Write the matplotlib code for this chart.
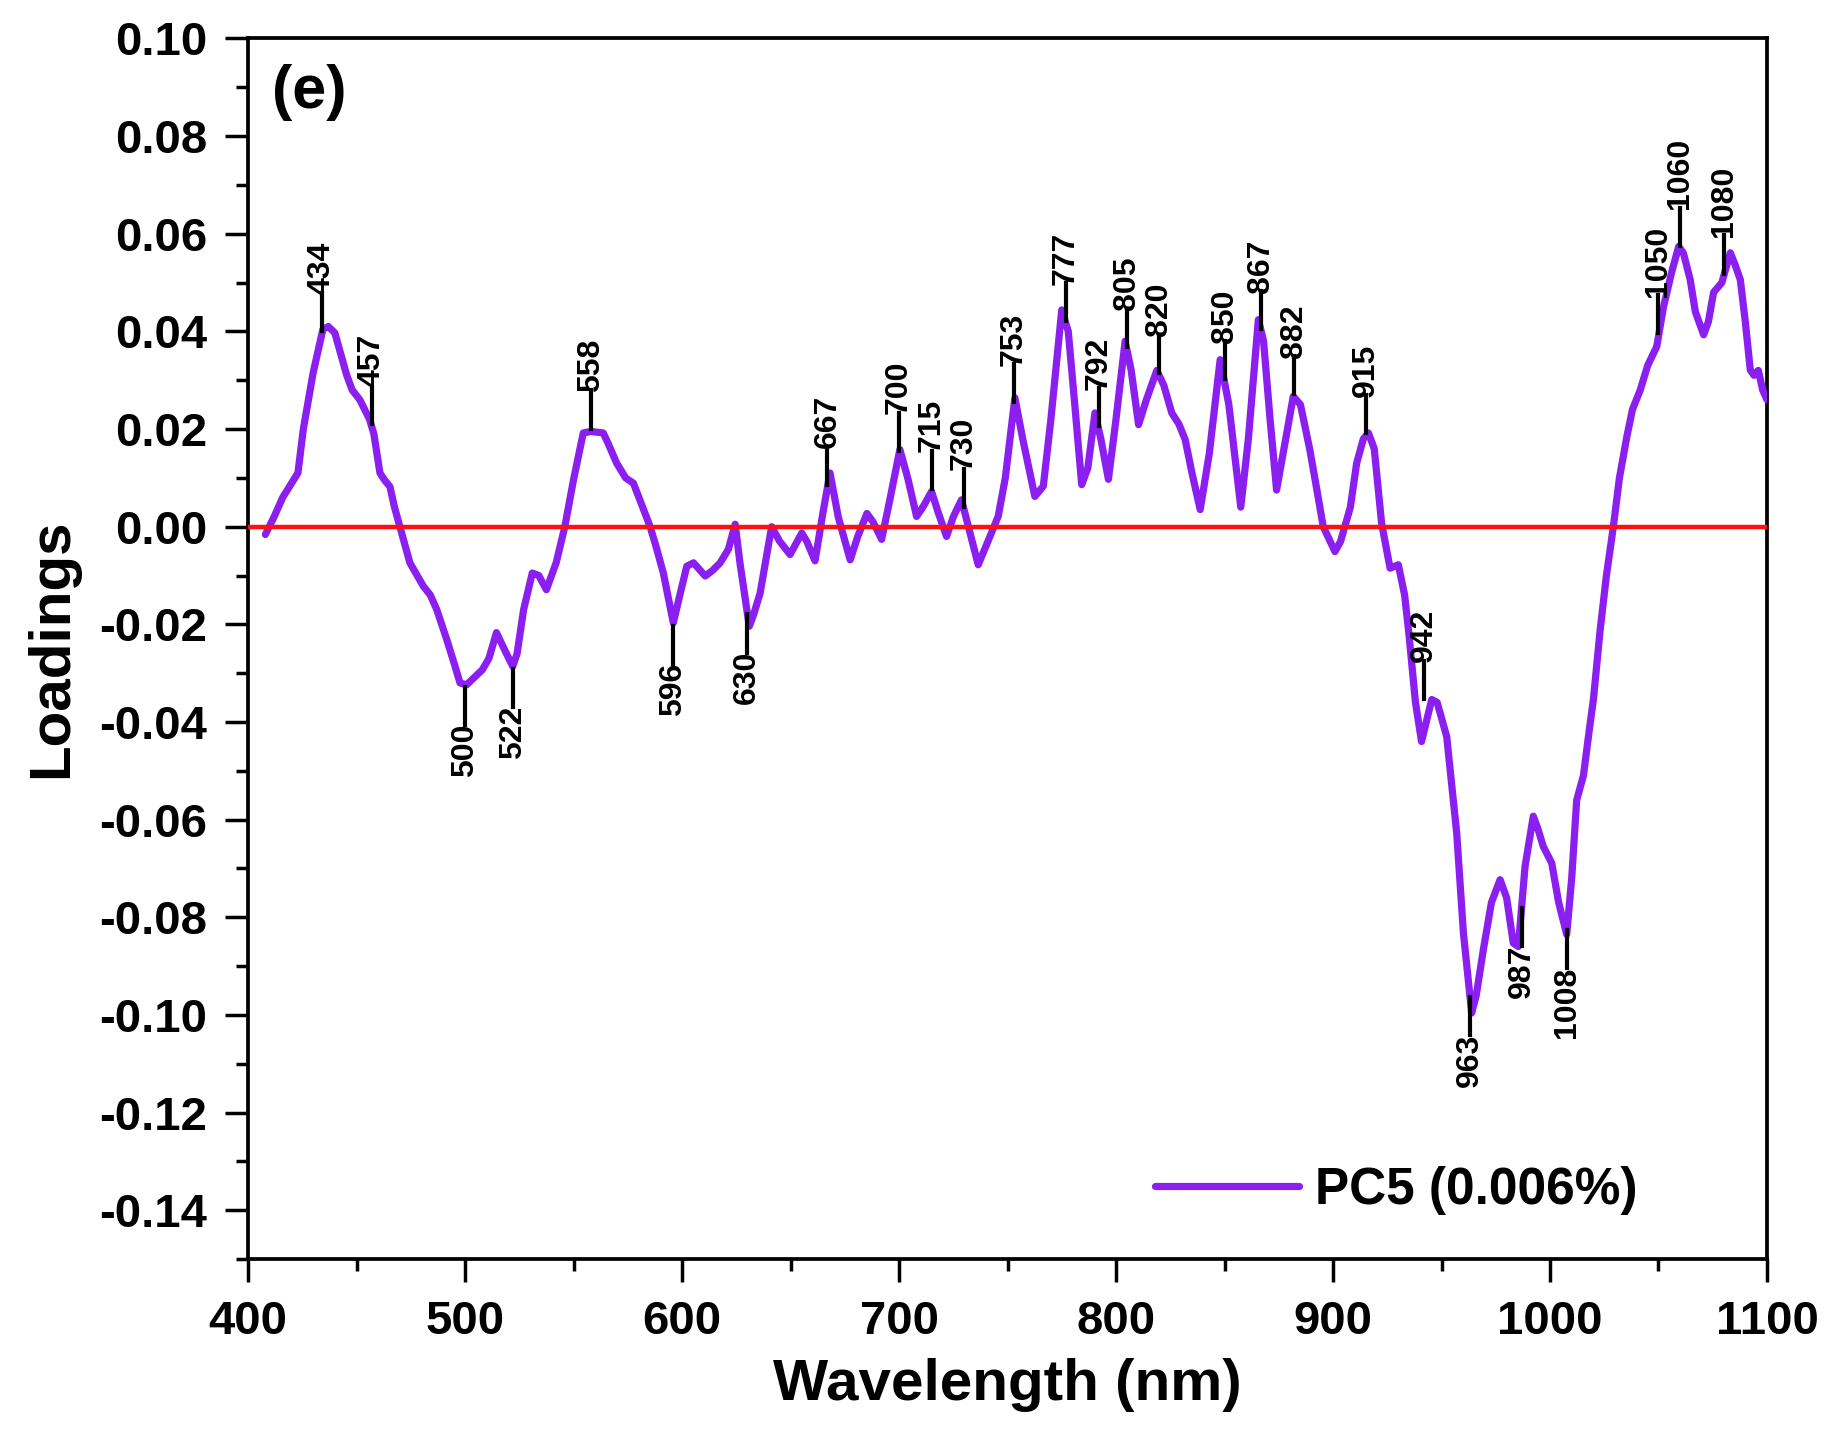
import numpy as np
import matplotlib
matplotlib.use("Agg")
import matplotlib.pyplot as plt
from matplotlib.ticker import MultipleLocator, FormatStrFormatter

plt.rcParams['font.family'] = ['Liberation Sans', 'DejaVu Sans']

# PC5 loading spectrum
wavelength = [408, 412, 416, 421, 423, 425.5, 430, 434.5, 437, 440, 445.5, 448, 451.5, 456, 458,
              460.8, 463, 465.4, 467.5, 470, 474.6, 480.8, 484, 487, 491.5, 495, 497.7, 500.7,
              504, 508, 511, 514.5, 518, 522, 524, 527, 531, 534, 537.5, 542, 546, 550, 554.5,
              558, 563.7, 566, 569.9, 574, 577.6, 581, 585.3, 588, 591.4, 596, 599, 602.2,
              605.3, 610.7, 614, 617.6, 621.4, 624.5, 626.7, 631, 633, 636, 641.3, 645, 649.8,
              655.2, 657.5, 661.3, 665, 668.2, 672, 677.5, 681, 685.2, 688, 692, 696, 700.4,
              704, 708.1, 711, 715, 718, 721.9, 725, 728.8, 732, 736.5, 741, 745.7, 749,
              753.4, 757, 762.6, 766.5, 770, 775, 778, 781, 784.2, 787, 790.3, 793, 796.5,
              800, 804.2, 807, 810.4, 814, 818.8, 822, 825.7, 829, 831.9, 835, 838.8, 843,
              848, 852, 857.5, 861, 865.6, 868, 871, 874, 877, 881.7, 885, 889.3, 892, 895.5,
              900.9, 903.5, 906.3, 908, 910.9, 914, 916.3, 919, 922.4, 926.3, 930.1, 933, 935,
              938, 940.8, 943, 945.5, 948, 952.4, 957, 960.1, 963.9, 966, 969.3, 973, 977,
              980, 983.1, 985.4, 988.5, 992.3, 994.5, 996.9, 1000.8, 1004, 1007.7, 1010,
              1012.3, 1015.4, 1018, 1020, 1023.1, 1026, 1029.2, 1032, 1035.4, 1038, 1041.6,
              1045, 1049.2, 1052.3, 1056, 1059.3, 1061.5, 1064.6, 1067, 1070.8, 1073, 1075.4,
              1079.2, 1083.1, 1085, 1087.7, 1090, 1092.3, 1094, 1096, 1098, 1100]
loading = [-0.0016, 0.002, 0.006, 0.0096, 0.011, 0.020, 0.0315, 0.0404, 0.041, 0.0397, 0.031,
           0.028, 0.026, 0.022, 0.019, 0.011, 0.0095, 0.0082, 0.004, 0.0, -0.0074, -0.0122,
           -0.014, -0.017, -0.023, -0.028, -0.032, -0.0324, -0.031, -0.0293, -0.027, -0.0217,
           -0.025, -0.0286, -0.026, -0.017, -0.0095, -0.010, -0.0129, -0.0074, 0.0, 0.0096,
           0.0192, 0.0195, 0.0192, 0.017, 0.013, 0.010, 0.0089, 0.005, 0.0, -0.004, -0.0095,
           -0.0197, -0.014, -0.0081, -0.0074, -0.0101, -0.009, -0.0074, -0.0046, 0.0005,
           -0.0074, -0.0204, -0.018, -0.0136, 0.0, -0.003, -0.0057, -0.0013, -0.003, -0.007,
           0.003, 0.011, 0.002, -0.0068, -0.002, 0.0027, 0.001, -0.0026, 0.006, 0.0158, 0.010,
           0.0021, 0.004, 0.0072, 0.003, -0.0020, 0.002, 0.0055, 0.000, -0.0078, -0.003,
           0.0021, 0.010, 0.0264, 0.018, 0.0062, 0.0083, 0.022, 0.0444, 0.040, 0.025, 0.0086,
           0.012, 0.0233, 0.018, 0.0097, 0.022, 0.038, 0.032, 0.0209, 0.026, 0.032, 0.029,
           0.0233, 0.021, 0.0178, 0.011, 0.0035, 0.015, 0.0342, 0.025, 0.0040, 0.018, 0.0424,
           0.038, 0.022, 0.0075, 0.015, 0.0267, 0.025, 0.0158, 0.009, 0.0, -0.0051, -0.003,
           0.0014, 0.004, 0.013, 0.018, 0.0192, 0.016, 0.0007, -0.0085, -0.0078, -0.014,
           -0.022, -0.036, -0.044, -0.040, -0.0354, -0.036, -0.043, -0.0627, -0.0832, -0.0996,
           -0.096, -0.0866, -0.077, -0.0723, -0.076, -0.0853, -0.086, -0.0696, -0.0593, -0.062,
           -0.0655, -0.0689, -0.077, -0.0835, -0.072, -0.056, -0.051, -0.042, -0.0354, -0.0212,
           -0.010, 0.0, 0.010, 0.0184, 0.024, 0.028, 0.033, 0.0369, 0.045, 0.052, 0.0574,
           0.056, 0.0506, 0.044, 0.0393, 0.042, 0.048, 0.05, 0.0561, 0.054, 0.0506, 0.042,
           0.0321, 0.031, 0.032, 0.028, 0.026]

# marked bands
peaks_up = [434, 457, 558, 667, 700, 715, 730, 753, 777, 792, 805, 820, 850, 867, 882, 915,
            942, 1050, 1060, 1080]
peaks_down = [500, 522, 596, 630, 963, 987, 1008]
label_shift = {942: 0.006}

purple = '#8A1FF0'

fig = plt.figure(figsize=(18.29, 14.34), dpi=100)
ax = fig.add_axes([0.1356, 0.1220, 0.8305, 0.8512])

ax.plot(wavelength, loading, color=purple, lw=5.2, label='PC5 (0.006%)', zorder=3,
        solid_joinstyle='round', solid_capstyle='round')
ax.axhline(0, color='#FF1010', lw=3.2, zorder=4)

tick_len = 0.0078
for w in peaks_up:
    y0 = np.interp(w, wavelength, loading) + 0.0006 + label_shift.get(w, 0)
    y1 = y0 + tick_len
    ax.plot([w, w], [y0, y1], color='black', lw=3, zorder=5)
    ax.text(w, y1 - 0.0003, str(w), rotation=90, ha='center', va='bottom',
            fontsize=23, fontweight='bold', zorder=5)
for w in peaks_down:
    y0 = np.interp(w, wavelength, loading) - 0.0006
    y1 = y0 - tick_len
    ax.plot([w, w], [y0, y1], color='black', lw=3, zorder=5)
    ax.text(w, y1 + 0.0003, str(w), rotation=90, ha='center', va='top',
            fontsize=23, fontweight='bold', zorder=5)

ax.set_xlim(400, 1100)
ax.set_ylim(-0.15, 0.10)
ax.xaxis.set_major_locator(MultipleLocator(100))
ax.xaxis.set_minor_locator(MultipleLocator(50))
ax.yaxis.set_major_locator(MultipleLocator(0.02))
ax.yaxis.set_minor_locator(MultipleLocator(0.01))
ax.yaxis.set_major_formatter(FormatStrFormatter('%.2f'))

ax.tick_params(which='both', direction='out', top=False, right=False, width=2.5)
ax.tick_params(which='major', length=16.5, labelsize=34, pad=13)
ax.tick_params(which='minor', length=8.5)
for lab in ax.get_xticklabels() + ax.get_yticklabels():
    lab.set_fontweight('bold')
for s in ax.spines.values():
    s.set_linewidth(2.7)

ax.set_xlabel('Wavelength (nm)', fontsize=42, fontweight='bold', labelpad=10)
ax.set_ylabel('Loadings', fontsize=42, fontweight='bold', labelpad=14)

ax.text(0.016, 0.979, '(e)', transform=ax.transAxes, ha='left', va='top',
        fontsize=44, fontweight='bold')

ax.legend(loc='center', bbox_to_anchor=(0.756, 0.0565), frameon=False,
          prop={'size': 37, 'weight': 'bold'}, handlelength=2.8, handletextpad=0.3)

fig.savefig('out.png', dpi=100)
